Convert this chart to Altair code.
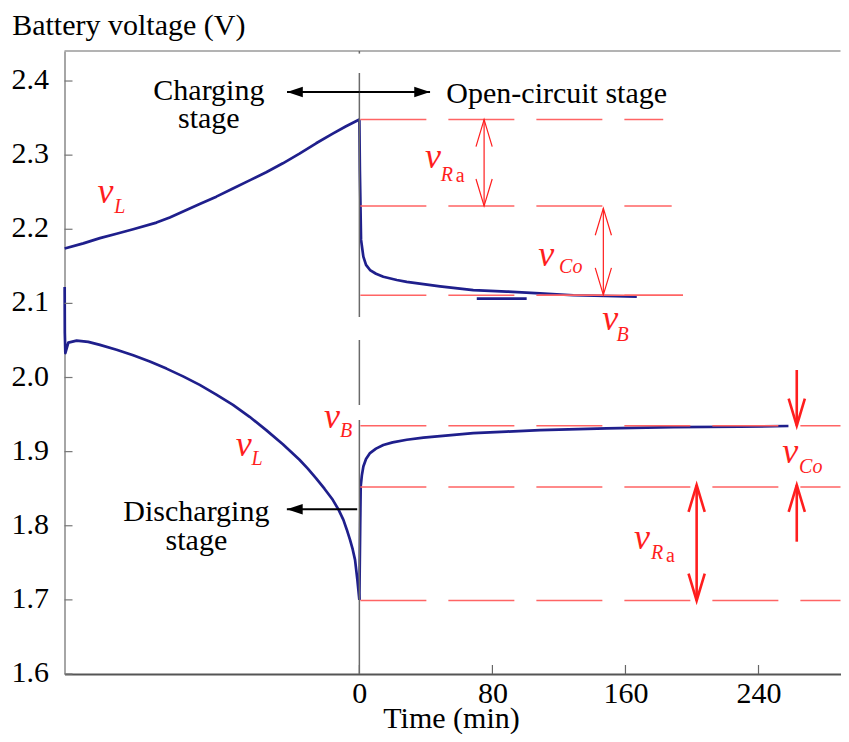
import altair as alt
import pandas as pd

# ---------------- data ----------------
charge_t = [-177.2, -166, -156, -146, -136, -122, -114, -106, -96, -86, -76, -66, -56, -46, -36, -26, -16, -8, 0]
charge_v = [2.174, 2.181, 2.188, 2.194, 2.200, 2.209, 2.216, 2.224, 2.234, 2.244, 2.255, 2.266, 2.277,
            2.289, 2.302, 2.316, 2.329, 2.339, 2.348]

charge_oc_t = [0, 0.3, 1.0, 2.4, 4.0, 6.4, 10.0, 14.4, 22.5, 28.5, 38.5, 48.5, 68.5, 88.6, 108.6, 128.7, 166.8]
charge_oc_v = [2.348, 2.28, 2.186, 2.163, 2.152, 2.145, 2.140, 2.136, 2.1315, 2.129, 2.126, 2.123, 2.118,
               2.116, 2.1136, 2.111, 2.109]

glitch_t = [70.6, 100.6]
glitch_v = [2.1065, 2.1065]

discharge_t = [-177.2, -177.1, -176.8, -175, -170, -163, -156, -146, -136, -126, -116, -106, -96, -86,
               -76, -66, -56, -46, -36, -31, -26, -21, -16, -12.6, -9.6, -7.6, -5.6, -4.0, -2.6, -1.2, 0]
discharge_v = [2.122, 2.06, 2.033, 2.047, 2.0497, 2.048, 2.044, 2.0375, 2.030, 2.0215, 2.012, 2.0015,
               1.990, 1.977, 1.963, 1.947, 1.929, 1.910, 1.889, 1.877, 1.864, 1.850, 1.835, 1.822,
               1.808, 1.795, 1.781, 1.768, 1.754, 1.727, 1.700]

discharge_oc_t = [0, 0.5, 0.8, 1.5, 2.4, 4.0, 6.4, 10.0, 14.4, 20.0, 28.5, 38.5, 48.5, 68.5, 88.6, 108.6,
                  148.7, 188.8, 228.9, 258]
discharge_oc_v = [1.700, 1.80, 1.853, 1.868, 1.880, 1.890, 1.898, 1.904, 1.909, 1.9125, 1.916, 1.919,
                  1.921, 1.925, 1.927, 1.929, 1.9315, 1.933, 1.9336, 1.9346]

# dashed red reference levels
ref_v = [2.348, 2.2314, 2.111, 1.935, 1.8523, 1.699]
ref_t0 = [0.6, 0.6, 0.6, 0.6, 0.6, 0.6]
ref_t1 = [182.7, 187.8, 194.6, 289.3, 289.3, 289.3]
solid_ref_t0 = [107.6]
solid_ref_t1 = [194.6]
solid_ref_v = [2.111]

# vertical line at t = 0 (pieces)
zero_top = [2.4405, 2.4108, 2.0506, 1.9427]
zero_bot = [2.437, 2.0816, 1.9629, 1.6]

# axis ticks
x_ticks = [0, 80, 160, 240]
y_ticks = [1.6, 1.7, 1.8, 1.9, 2.0, 2.1, 2.2, 2.3, 2.4]

# red double arrows (upper: thin, lower: thick)
thin_arrow_t = [75.0, 146.7]
thin_arrow_top = [2.348, 2.2283]
thin_arrow_bot = [2.2314, 2.1115]

thick_shaft_t = [202.8, 263.0, 263.0]
thick_shaft_v0 = [1.855, 2.0101, 1.7785]
thick_shaft_v1 = [1.699, 1.935, 1.855]
thick_up_t = [202.8, 263.0]
thick_up_v = [1.855, 1.855]
thick_down_t = [202.8, 263.0]
thick_down_v = [1.699, 1.935]

# black stage arrows
stage_arrow_t0 = [-43.5, 0.0, -43.6]
stage_arrow_t1 = [0.0, 42.5, -1.3]
stage_arrow_v = [2.3852, 2.3852, 1.8222]
left_head_t = [-43.5, -43.6]
left_head_v = [2.3852, 1.8222]
right_head_t = [42.5]
right_head_v = [2.3852]

# black texts (two-line labels)
stage_text = ["Charging\nstage", "Discharging\nstage"]
stage_text_t = [-90.5, -98.0]
stage_text_v = [2.3744, 1.8064]
open_text = ["Open-circuit stage"]
open_text_t = [52.3]
open_text_v = [2.3699]

# red symbol labels: main "v" and subscripts
v_t = [-157.5, 39.5, 107.6, 146.1, -21.2, -74.3, 254.3, 165.2]
v_v = [2.2350, 2.2822, 2.1504, 2.0641, 1.9315, 1.8941, 1.8842, 1.7682]
sub_text = ["L", "R", "Co", "B", "B", "L", "Co", "R"]
sub_t = [-147.4, 49.0, 120.1, 154.6, -11.6, -64.8, 264.4, 175.3]
sub_v = [2.2215, 2.2655, 2.1406, 2.0492, 1.9201, 1.8820, 1.8716, 1.7551]
sub_a_t = [58.0, 184.3]
sub_a_v = [2.2642, 1.7507]

# ---------------- styling ----------------
SERIF = "Liberation Serif"
BLUE = "#1f1f8c"
RED = "#ff1e1e"
RED_LINE = "#ff6464"
X_DOM = [-177.3, 289.3]
Y_DOM = [1.6, 2.4405]
W, H = 776, 623

xs = alt.Scale(domain=X_DOM, nice=False, zero=False)
ys = alt.Scale(domain=Y_DOM, nice=False, zero=False)

UP_V = "M-0.3,1L0,0L0.3,1"
DOWN_V = "M-0.3,-1L0,0L0.3,-1"
LEFT_TRI = "M0,0L1,-0.33L1,0.33Z"
RIGHT_TRI = "M0,0L-1,-0.33L-1,0.33Z"

xaxis = alt.Axis(values=x_ticks, format="d", title="Time (min)", labelFont=SERIF, labelFontSize=30,
                 labelColor="black", labelPadding=4, tickSize=0, domainColor="#555555", domainWidth=2,
                 grid=False, titleFont=SERIF, titleFontSize=30, titleFontWeight="normal",
                 titleColor="black", titleBaseline="alphabetic", titleY=53, titleX=386.5,
                 labelOverlap=False, labelFlush=False)
yaxis = alt.Axis(values=y_ticks, format=".1f", title="Battery voltage (V)", labelFont=SERIF,
                 labelFontSize=30, labelColor="black", labelPadding=16, labelOffset=-1.5, tickSize=0,
                 domainColor="#888888", domainWidth=1.5, grid=False, titleFont=SERIF, titleFontSize=30,
                 titleFontWeight="normal", titleColor="black", titleAngle=0, titleAlign="left",
                 titleBaseline="alphabetic", titleX=-52.8, titleY=-16.7, labelOverlap=False)


def xq(f):
    return alt.X(f, type="quantitative", scale=xs, axis=xaxis)


def yq(f):
    return alt.Y(f, type="quantitative", scale=ys, axis=yaxis)


# ---------------- tables ----------------
frames = []
for name, ts, vs in [("charge", charge_t, charge_v), ("charge_oc", charge_oc_t, charge_oc_v),
                     ("glitch", glitch_t, glitch_v), ("discharge", discharge_t, discharge_v),
                     ("discharge_oc", discharge_oc_t, discharge_oc_v)]:
    frames.append(pd.DataFrame({"t": ts, "v": vs, "series": name, "i": range(len(ts))}))
curves = pd.concat(frames, ignore_index=True)

lines = alt.Chart(curves).mark_line(color=BLUE, strokeWidth=2.7, strokeJoin="round").encode(
    x=xq("t"), y=yq("v"), detail="series:N", order="i:Q",
)

top_border = alt.Chart(pd.DataFrame({"v": [Y_DOM[1]]})).mark_rule(
    color="#9a9a9a", strokeWidth=1.5).encode(y=yq("v"))

ytick_rules = alt.Chart(pd.DataFrame({"v": y_ticks})).mark_rule(color="#777777", strokeWidth=1.2).encode(
    y=yq("v"), x=alt.value(0), x2=alt.value(8))
xtick_rules = alt.Chart(pd.DataFrame({"t": x_ticks})).mark_rule(color="#666666", strokeWidth=1.2).encode(
    x=xq("t"), y=alt.value(H), y2=alt.value(H - 9))

zero_line = alt.Chart(pd.DataFrame({"t": [0] * len(zero_top), "a": zero_top, "b": zero_bot})).mark_rule(
    color="#6a6a6a", strokeWidth=1.5).encode(x=xq("t"), y=yq("a"), y2="b:Q")

ref_lines = alt.Chart(pd.DataFrame({"a": ref_t0, "b": ref_t1, "v": ref_v})).mark_rule(
    color=RED_LINE, strokeWidth=1.5, strokeDash=[66, 22]).encode(x=xq("a"), x2="b:Q", y=yq("v"))
solid_ref = alt.Chart(pd.DataFrame({"a": solid_ref_t0, "b": solid_ref_t1, "v": solid_ref_v})).mark_rule(
    color=RED_LINE, strokeWidth=1.5).encode(x=xq("a"), x2="b:Q", y=yq("v"))

# thin red arrows
thin_shaft = alt.Chart(pd.DataFrame({"t": thin_arrow_t, "a": thin_arrow_top, "b": thin_arrow_bot})).mark_rule(
    color=RED, strokeWidth=1.2).encode(x=xq("t"), y=yq("a"), y2="b:Q")
thin_up = alt.Chart(pd.DataFrame({"t": thin_arrow_t, "v": thin_arrow_top})).mark_point(
    shape=UP_V, size=2916, filled=False, color=RED, strokeWidth=1.2, opacity=1).encode(x=xq("t"), y=yq("v"))
thin_down = alt.Chart(pd.DataFrame({"t": thin_arrow_t, "v": thin_arrow_bot})).mark_point(
    shape=DOWN_V, size=2916, filled=False, color=RED, strokeWidth=1.2, opacity=1).encode(x=xq("t"), y=yq("v"))

# thick red arrows
thick_shaft = alt.Chart(pd.DataFrame({"t": thick_shaft_t, "a": thick_shaft_v0, "b": thick_shaft_v1})).mark_rule(
    color=RED, strokeWidth=2.6).encode(x=xq("t"), y=yq("a"), y2="b:Q")
thick_up = alt.Chart(pd.DataFrame({"t": thick_up_t, "v": thick_up_v})).mark_point(
    shape=UP_V, size=2916, filled=False, color=RED, strokeWidth=2.6, opacity=1).encode(x=xq("t"), y=yq("v"))
thick_down = alt.Chart(pd.DataFrame({"t": thick_down_t, "v": thick_down_v})).mark_point(
    shape=DOWN_V, size=2916, filled=False, color=RED, strokeWidth=2.6, opacity=1).encode(x=xq("t"), y=yq("v"))

# black stage arrows
stage_shaft = alt.Chart(pd.DataFrame({"a": stage_arrow_t0, "b": stage_arrow_t1, "v": stage_arrow_v})).mark_rule(
    color="black", strokeWidth=2).encode(x=xq("a"), x2="b:Q", y=yq("v"))
left_heads = alt.Chart(pd.DataFrame({"t": left_head_t, "v": left_head_v})).mark_point(
    shape=LEFT_TRI, size=1000, filled=True, color="black", opacity=1, strokeWidth=0).encode(x=xq("t"), y=yq("v"))
right_heads = alt.Chart(pd.DataFrame({"t": right_head_t, "v": right_head_v})).mark_point(
    shape=RIGHT_TRI, size=1000, filled=True, color="black", opacity=1, strokeWidth=0).encode(x=xq("t"), y=yq("v"))

# texts
stage_labels = alt.Chart(pd.DataFrame({"t": stage_text_t, "v": stage_text_v, "s": stage_text})).mark_text(
    font=SERIF, fontSize=30, color="black", align="center", baseline="alphabetic",
    lineBreak="\n", lineHeight=28.5).encode(
    x=xq("t"), y=yq("v"), text="s:N")
open_label = alt.Chart(pd.DataFrame({"t": open_text_t, "v": open_text_v, "s": open_text})).mark_text(
    font=SERIF, fontSize=30, color="black", align="left", baseline="alphabetic").encode(
    x=xq("t"), y=yq("v"), text="s:N")

v_labels = alt.Chart(pd.DataFrame({"t": v_t, "v": v_v, "s": ["v"] * len(v_t)})).mark_text(
    font=SERIF, fontSize=36, fontStyle="italic", color=RED, align="left", baseline="alphabetic").encode(
    x=xq("t"), y=yq("v"), text="s:N")
sub_labels = alt.Chart(pd.DataFrame({"t": sub_t, "v": sub_v, "s": sub_text})).mark_text(
    font=SERIF, fontSize=20, fontStyle="italic", color=RED, align="left", baseline="alphabetic").encode(
    x=xq("t"), y=yq("v"), text="s:N")
sub_a = alt.Chart(pd.DataFrame({"t": sub_a_t, "v": sub_a_v, "s": ["a"] * len(sub_a_t)})).mark_text(
    font=SERIF, fontSize=20, color=RED, align="left", baseline="alphabetic").encode(
    x=xq("t"), y=yq("v"), text="s:N")

chart = alt.layer(
    lines, top_border, ytick_rules, xtick_rules, zero_line, ref_lines, solid_ref,
    thin_shaft, thin_up, thin_down, thick_shaft, thick_up, thick_down,
    stage_shaft, left_heads, right_heads,
    stage_labels, open_label, v_labels, sub_labels, sub_a,
).properties(
    width=W, height=H,
    padding={"left": 56.5, "top": 43, "right": 0, "bottom": 60},
    autosize=alt.AutoSizeParams(type="none"),
).configure_view(stroke=None)

chart.save("out.html", embed_options={"renderer": "svg", "actions": False})
